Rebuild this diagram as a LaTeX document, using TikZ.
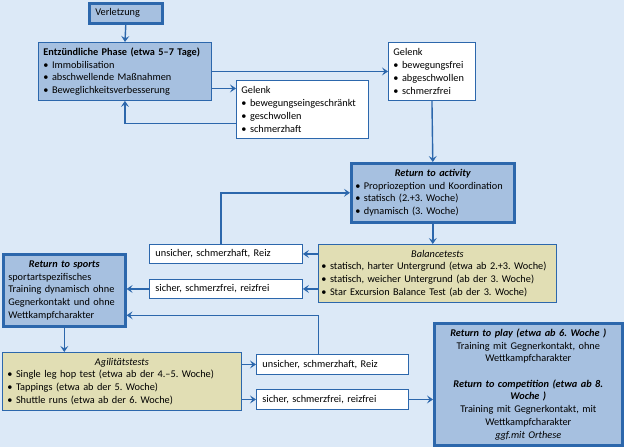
\documentclass[tikz,border=0pt]{standalone}
\usepackage{fontspec}
\setmainfont{Carlito}
\frenchspacing
\usetikzlibrary{arrows.meta}
\definecolor{bg}{HTML}{DCE9F7}
\definecolor{bfill}{HTML}{A6C0E0}
\definecolor{bline}{HTML}{2C67AC}
\definecolor{kfill}{HTML}{E1DEB4}
\begin{document}
\begin{tikzpicture}[x=1pt,y=-1pt,
  base/.style={draw=bline, line width=0.9pt, inner xsep=6pt, inner ysep=0pt, anchor=north west,
    font=\fontsize{10.3}{12.7}\selectfont, align=left},
  bluebox/.style={base, fill=bfill},
  whitebox/.style={base, fill=white},
  khakibox/.style={base, fill=kfill},
  heavy/.style={line width=2.6pt},
  arr/.style={-{Stealth[length=6pt,width=8pt,inset=2.5pt]}, draw=bline, line width=1.4pt}
]
\fill[bg] (0,0) rectangle (624,447);
\useasboundingbox (0,0) rectangle (624,447);

\node[bluebox, heavy, minimum width=73pt, minimum height=20pt, text width=61pt, inner xsep=6pt] (verl) at (88,2) {Verletzung};

\node[bluebox, minimum width=173pt, minimum height=58pt, text width=163pt, inner xsep=5pt] (entz) at (38,42)
 {\textbf{Entzündliche Phase (etwa 5–7 Tage)}\\• Immobilisation\\• abschwellende Maßnahmen\\• Beweglichkeitsverbesserung};

\node[whitebox, minimum width=132pt, minimum height=58pt, text width=122pt, inner xsep=5pt] (g1) at (236,80)
 {Gelenk\\• bewegungseingeschränkt\\• geschwollen\\• schmerzhaft};

\node[whitebox, minimum width=87pt, minimum height=58pt, text width=77pt, inner xsep=5pt] (g2) at (388,42)
 {Gelenk\\• bewegungsfrei\\• abgeschwollen\\• schmerzfrei};

\node[bluebox, heavy, minimum width=163pt, minimum height=59pt, text width=155pt, inner xsep=4pt] (rta) at (350,162)
 {{\centering\bfseries\itshape Return to activity\par}• Propriozeption und Koordination\\• statisch (2.+3. Woche)\\• dynamisch (3. Woche)};

\node[khakibox, minimum width=238pt, minimum height=58pt, text width=232pt, inner xsep=3pt] (bal) at (318,244)
 {{\centering\itshape Balancetests\par}\mbox{• statisch, harter Untergrund (etwa ab 2.+3. Woche)}\\• statisch, weicher Untergrund (ab der 3. Woche)\\• Star Excursion Balance Test (ab der 3. Woche)};

\node[whitebox, minimum width=153pt, minimum height=19pt, text width=141pt] (uns1) at (149,244) {unsicher, schmerzhaft, Reiz};
\node[whitebox, minimum width=153pt, minimum height=19pt, text width=141pt] (sic1) at (149,279) {sicher, schmerzfrei, reizfrei};

\node[bluebox, heavy, minimum width=122pt, minimum height=72pt, text width=112pt, inner xsep=5pt] (rts) at (2,253)
 {{\centering\bfseries\itshape Return to sports\par}sportartspezifisches\\\mbox{Training dynamisch ohne}\\Gegnerkontakt und ohne\\Wettkampfcharakter};

\node[khakibox, minimum width=239pt, minimum height=58pt, text width=229pt, inner xsep=5pt] (agi) at (2,352)
 {{\centering\itshape Agilitätstests\par}• Single leg hop test (etwa ab der 4.–5. Woche)\\• Tappings (etwa ab der 5. Woche)\\• Shuttle runs (etwa ab der 6. Woche)};

\node[whitebox, minimum width=152pt, minimum height=20pt, text width=140pt] (uns2) at (256,354) {unsicher, schmerzhaft, Reiz};
\node[whitebox, minimum width=152pt, minimum height=20pt, text width=140pt] (sic2) at (256,389) {sicher, schmerzfrei, reizfrei};

\node[bluebox, heavy, minimum width=188pt, minimum height=122pt, text width=176pt, align=center] (rtp) at (433,322)
 {\textbf{\textit{Return to play (etwa ab 6. Woche )}}\\Training mit Gegnerkontakt, ohne\\Wettkampfcharakter\\[12.7pt]\textbf{\textit{Return to competition (etwa ab 8.}}\\\textbf{\textit{Woche )}}\\Training mit Gegnerkontakt, mit\\Wettkampfcharakter\\\textit{ggf.mit Orthese}};

% connectors
\coordinate (e2) at ([yshift=-17pt]entz.east);
\draw[arr] (verl.south) -- (entz.north);
\draw[arr] (entz.east) -- (g2.west);
\draw[arr] (e2) -- (e2 -| g1.west);
\draw[arr] ([yshift=-14pt]g1.west) -| (entz.south);
\draw[arr] (g2.south) -- (rta.north);
\draw[arr] (rta.south) -- (rta.south |- bal.north);
\draw[arr] (bal.west |- uns1.east) -- (uns1.east);
\draw[arr] (bal.west |- sic1.east) -- (sic1.east);
\draw[arr] ([xshift=-5pt]uns1.north) |- (rta.west);
\draw[arr] (sic1.west) -- (sic1.west -| rts.east);
\draw[arr] (rts.south) -- (rts.south |- agi.north);
\draw[arr] (agi.east |- uns2.west) -- (uns2.west);
\draw[arr] (agi.east |- sic2.west) -- (sic2.west);
\draw[arr] ([xshift=-14pt]uns2.north) |- ([yshift=-25pt]rts.east);
\draw[arr] (sic2.east) -- (sic2.east -| rtp.west);
\end{tikzpicture}
\end{document}
